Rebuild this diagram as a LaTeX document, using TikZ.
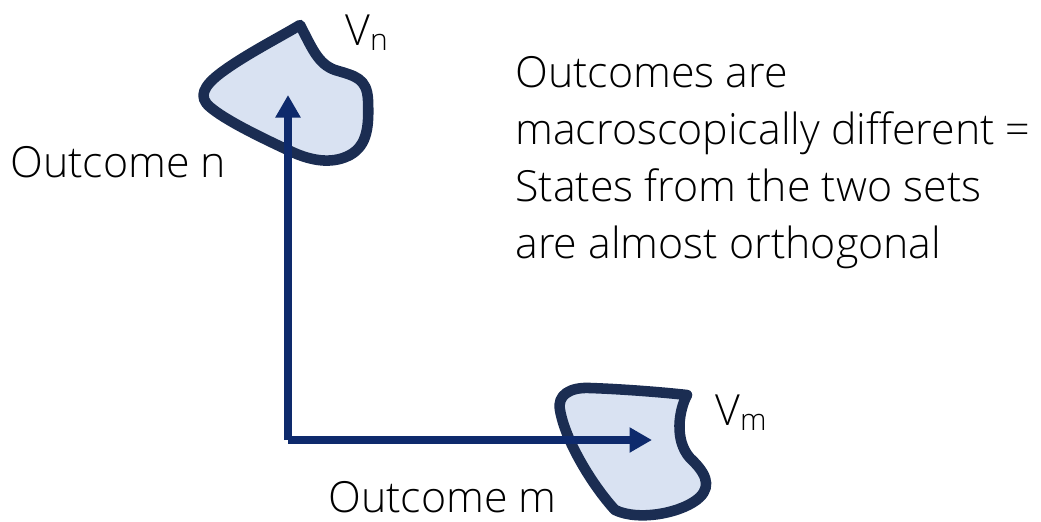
\documentclass[tikz,border=0pt]{standalone}
\usepackage{fontspec}
\setmainfont{Open Sans}[UprightFont=* Light]
\usetikzlibrary{arrows.meta, positioning}
\definecolor{blobline}{RGB}{27,45,82}
\definecolor{blobfill}{RGB}{217,226,242}
\definecolor{axisblue}{RGB}{14,42,108}

\begin{document}
\begin{tikzpicture}[x=0.025cm, y=-0.025cm,
  blob/.style={draw=blobline, fill=blobfill, line width=7.5pt, line join=round},
  axis/.style={draw=axisblue, line width=5pt, -{Triangle[length=16pt, width=17pt]}},
  lbl/.style={inner sep=0pt, font=\fontsize{30.5}{40.5}\selectfont}]
\useasboundingbox (0,0) rectangle (1041,521);
% V_n: outcome n set
\draw[blob] (300,25) .. controls (312,48) and (318,64) .. (335,70)
  .. controls (355,76) and (367,78) .. (368,100)
  .. controls (369,125) and (368,145) .. (350,155)
  .. controls (335,163) and (315,163) .. (290,151)
  .. controls (260,137) and (225,120) .. (210,107)
  .. controls (198,97) and (203,86) .. (222,72)
  .. controls (245,55) and (280,37) .. (300,25) -- cycle;
% V_m: outcome m set
\draw[blob] (687,395) .. controls (679,410) and (674,440) .. (690,458)
  .. controls (705,472) and (712,485) .. (700,497)
  .. controls (685,512) and (640,522) .. (615,510)
  .. controls (592,485) and (565,440) .. (560,410)
  .. controls (557,395) and (570,387) .. (590,388)
  .. controls (620,389) and (660,392) .. (687,395) -- cycle;
% axes
\coordinate (origin) at (288,440);
\coordinate (ntip) at (288,95);
\coordinate (mtip) at (652,440);
\draw[axis] (origin) -- (ntip);
\draw[axis] (origin) -- (mtip);
% labels
\node[lbl, anchor=base west] (vn) at (345,45) {V\textsubscript{n}};
\node[lbl, anchor=base west] (vm) at (715,425) {V\textsubscript{m}};
\node[lbl, anchor=base west] (outn) at (10,177) {Outcome n};
\node[lbl, anchor=base west] (outm) at (328,512) {Outcome m};
\node[lbl, anchor=north west, align=left] (note) at (515,56)
  {Outcomes are\\macroscopically different =\\States from the two sets\\are almost orthogonal};
\end{tikzpicture}
\end{document}
